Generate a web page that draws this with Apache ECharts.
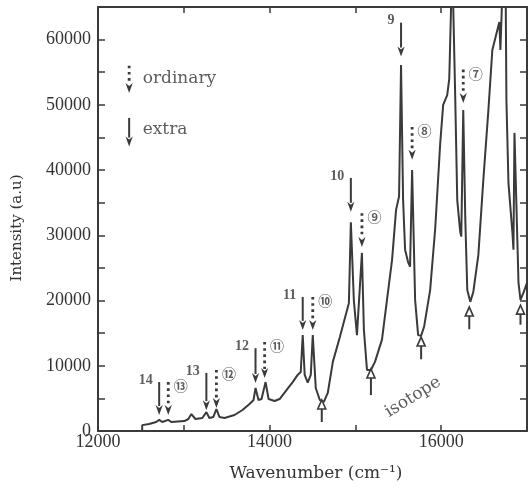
<!DOCTYPE html>
<html>
<head>
<meta charset="utf-8">
<script src="https://cdn.jsdelivr.net/npm/echarts/dist/echarts.min.js"></script>
<style>
  html, body { margin: 0; padding: 0; background: #fff; }
  #chart { width: 530px; height: 486px; }
</style>
</head>
<body>
<div id="chart"></div>
<script>
// spectrum (wavenumber in cm-1, intensity in a.u)
const waveX = [
  12515, 12515, 12596, 12678, 12713, 12749, 12819, 12854, 13006, 13053,
  13088, 13135, 13216, 13263, 13298, 13345, 13380, 13415, 13474, 13591,
  13684, 13766, 13813, 13836, 13871, 13906, 13953, 13988, 14058, 14117,
  14199, 14269, 14327, 14363, 14386, 14409, 14444, 14480, 14503, 14538,
  14585, 14632, 14678, 14737, 14819, 14877, 14924, 14947, 14982, 15018,
  15041, 15076, 15099, 15135, 15181, 15228, 15310, 15368, 15427, 15474,
  15509, 15532, 15556, 15579, 15614, 15637, 15661, 15696, 15731, 15766,
  15801, 15871, 15930, 15988, 16023, 16070, 16094, 16117, 16129, 16164,
  16187, 16222, 16234, 16257, 16281, 16304, 16339, 16374, 16433, 16491,
  16550, 16596, 16655, 16678, 16690, 16702, 16725, 16749, 16760, 16784,
  16830, 16842, 16854, 16877, 16901, 16924, 16959, 17000
];
const intensity = [
  0, 900, 1070, 1380, 1700, 1380, 1700, 1380, 1530, 1840,
  2600, 1840, 2000, 2900, 2000, 2150, 3370, 2150, 2000, 2450,
  3220, 4140, 4750, 6600, 4750, 4900, 7500, 4900, 4600, 4900,
  6300, 7500, 8600, 9050, 14700, 8600, 7400, 8600, 14700, 6600,
  4750, 4450, 5830, 10600, 14400, 17300, 19600, 32000, 20000, 14700,
  15000, 27300, 15500, 9360, 9360, 10600, 14000, 20100, 26200, 33900,
  36000, 56100, 35400, 27800, 25900, 25200, 40000, 20100, 14700, 14600,
  16000, 21600, 31000, 44000, 50000, 51500, 54000, 66000, 72000, 50800,
  35400, 30500, 29800, 49200, 32400, 21600, 19800, 21300, 27000, 38500,
  49200, 58400, 61500, 62700, 58400, 63000, 72000, 72000, 50800, 38000,
  30400, 27800, 45700, 34400, 22700, 20100, 21200, 22700
];

// "extra" lines (solid arrows)
const extraLabels = ['14', '13', '12', '11', '10', '9'];
const extraX = [12713, 13263, 13836, 14386, 14947, 15532];
const extraTop = [7500, 8900, 12700, 20550, 38800, 62600];
const extraTip = [2450, 3200, 7350, 15500, 33600, 57400];

// "ordinary" lines (dotted arrows)
const ordinaryLabels = ['⑬', '⑫', '⑪', '⑩', '⑨', '⑧', '⑦'];
const ordinaryX = [12819, 13380, 13942, 14503, 15076, 15661, 16257];
const ordinaryTop = [7500, 9350, 13650, 20550, 33400, 46600, 55400];
const ordinaryTip = [2450, 3530, 8130, 15500, 28200, 41600, 50300];

// isotope dips (hollow up arrows)
const isotopeX = [14608, 15181, 15766, 16327, 16924];
const isotopeBase = [1380, 5500, 11000, 15600, 16300];
const isotopeTip = [4750, 9500, 14400, 19000, 19300];

// key in the upper left
const keyNames = ['ordinary', 'extra'];
const keyX = 12363;
const keyTextX = 12515;
const keyTop = [56000, 48000];
const keyTip = [51800, 43600];
const keyTextY = [54000, 46200];

const isotopeText = { x: 15672, y: 5200 };

const INK = '#3a3a3a';
const SERIF = '"DejaVu Serif", serif';

function downArrow(dotted) {
  return function (params, api) {
    const top = api.coord([api.value(0), api.value(1)]);
    const tip = api.coord([api.value(0), api.value(2)]);
    const head = 10, half = 3.6;
    return {
      type: 'group',
      children: [
        {
          type: 'line',
          shape: { x1: top[0], y1: top[1], x2: tip[0], y2: tip[1] - head + 1 },
          style: dotted
            ? { stroke: INK, lineWidth: 2.8, lineDash: [2.6, 3.6] }
            : { stroke: INK, lineWidth: 2 }
        },
        {
          type: 'polygon',
          shape: { points: [[tip[0] - half, tip[1] - head], [tip[0], tip[1] - head + 3], [tip[0] + half, tip[1] - head], [tip[0], tip[1]]] },
          style: { fill: INK }
        }
      ]
    };
  };
}

function upArrow(params, api) {
  const base = api.coord([api.value(0), api.value(1)]);
  const tip = api.coord([api.value(0), api.value(2)]);
  const head = 9, half = 4;
  return {
    type: 'group',
    children: [
      {
        type: 'line',
        shape: { x1: base[0], y1: base[1], x2: tip[0], y2: tip[1] + head },
        style: { stroke: INK, lineWidth: 2 }
      },
      {
        type: 'polygon',
        shape: { points: [[tip[0] - half, tip[1] + head], [tip[0] + half, tip[1] + head], [tip[0], tip[1]]] },
        style: { fill: '#fff', stroke: INK, lineWidth: 1.6 }
      }
    ]
  };
}

const extraData = extraX.map((x, i) => [x, extraTop[i], extraTip[i]]).concat([[keyX, keyTop[1], keyTip[1]]]);
const ordinaryData = ordinaryX.map((x, i) => [x, ordinaryTop[i], ordinaryTip[i]]).concat([[keyX, keyTop[0], keyTip[0]]]);
const isotopeData = isotopeX.map((x, i) => [x, isotopeBase[i], isotopeTip[i]]);

const hidden = { color: 'rgba(0,0,0,0)' };

const frameLine = { show: true, onZero: false, lineStyle: { color: INK, width: 2 } };

const option = {
  animation: false,
  backgroundColor: '#fff',
  grid: { left: 98, right: 3, top: 7, bottom: 55, outerBoundsMode: 'none' },
  xAxis: [
    {
      type: 'value', min: 12000, max: 17000, interval: 1000, position: 'bottom',
      axisLine: frameLine,
      axisTick: { show: true, inside: true, length: 6, lineStyle: { color: INK, width: 1.5 } },
      axisLabel: {
        formatter: v => (v % 2000 === 0 && v < 17000 ? String(v) : ''),
        margin: 2, color: '#333', fontFamily: '"Liberation Serif", serif', fontSize: 18
      },
      splitLine: { show: false }
    },
    {
      type: 'value', min: 12000, max: 17000, interval: 1000, position: 'top',
      axisLine: frameLine,
      axisTick: { show: true, inside: true, length: 6, lineStyle: { color: INK, width: 1.5 } },
      axisLabel: { show: false },
      splitLine: { show: false }
    }
  ],
  yAxis: [
    {
      type: 'value', min: 0, max: 65000, interval: 5000, position: 'left',
      axisLine: frameLine,
      axisTick: { show: true, inside: true, length: 7, lineStyle: { color: INK, width: 1.5 } },
      axisLabel: {
        formatter: v => (v % 10000 === 0 ? String(v) : ''),
        margin: 7, color: '#333', fontFamily: '"Liberation Serif", serif', fontSize: 18
      },
      splitLine: { show: false }
    },
    {
      type: 'value', min: 0, max: 65000, interval: 5000, position: 'right',
      axisLine: frameLine,
      axisTick: { show: true, inside: true, length: 7, lineStyle: { color: INK, width: 1.5 } },
      axisLabel: { show: false },
      splitLine: { show: false }
    }
  ],
  series: [
    {
      name: 'spectrum', type: 'line', xAxisIndex: 0, yAxisIndex: 0,
      data: waveX.map((x, i) => [x, intensity[i]]),
      symbol: 'none', clip: true,
      lineStyle: { color: INK, width: 2 }
    },
    // keeps the top / right frame axes alive
    { type: 'line', xAxisIndex: 1, yAxisIndex: 1, data: [], symbol: 'none' },
    { name: 'extra', type: 'custom', renderItem: downArrow(false), data: extraData, clip: false, silent: true },
    { name: 'ordinary', type: 'custom', renderItem: downArrow(true), data: ordinaryData, clip: false, silent: true },
    { name: 'isotope', type: 'custom', renderItem: upArrow, data: isotopeData, clip: false, silent: true },
    {
      type: 'scatter', symbolSize: 1, itemStyle: hidden, silent: true,
      data: extraX.map((x, i) => ({ name: extraLabels[i], value: [x, extraTop[i]] })),
      label: {
        show: true, position: 'left', distance: 6, offset: [0, -2], formatter: '{b}',
        color: '#333', fontFamily: '"Liberation Serif", serif', fontWeight: 'bold', fontSize: 14
      }
    },
    {
      type: 'scatter', symbolSize: 1, itemStyle: hidden, silent: true,
      data: ordinaryX.map((x, i) => ({ name: ordinaryLabels[i], value: [x, ordinaryTop[i]] })),
      label: {
        show: true, position: 'right', distance: 5, offset: [0, 4], formatter: '{b}',
        color: '#333', fontFamily: '"Noto Sans CJK JP", sans-serif', fontWeight: 'bold', fontSize: 14
      }
    },
    {
      type: 'scatter', symbolSize: 1, itemStyle: hidden, silent: true,
      data: keyNames.map((n, i) => ({ name: n, value: [keyTextX, keyTextY[i]] })),
      label: {
        show: true, position: 'right', distance: 0, formatter: '{b}',
        color: '#333', fontFamily: SERIF, fontSize: 17
      }
    },
    {
      type: 'scatter', symbolSize: 1, itemStyle: hidden, silent: true,
      data: [{ name: 'isotope', value: [isotopeText.x, isotopeText.y] }],
      label: {
        show: true, position: 'inside', rotate: 32, formatter: '{b}',
        color: '#333', fontFamily: SERIF, fontSize: 17
      }
    }
  ],
  graphic: [
    {
      type: 'text', x: 17, y: 228, rotation: Math.PI / 2,
      style: {
        text: 'Intensity (a.u)', textAlign: 'center', textVerticalAlign: 'middle',
        fill: '#333', font: '15px "DejaVu Serif", serif'
      }
    },
    {
      type: 'text', x: 316, y: 474,
      style: {
        text: 'Wavenumber (cm⁻¹)', textAlign: 'center', textVerticalAlign: 'middle',
        fill: '#333', font: '17px "DejaVu Serif", serif'
      }
    }
  ]
};

const chart = echarts.init(document.getElementById('chart'), null, { renderer: 'canvas' });
chart.setOption(option);
</script>
</body>
</html>
